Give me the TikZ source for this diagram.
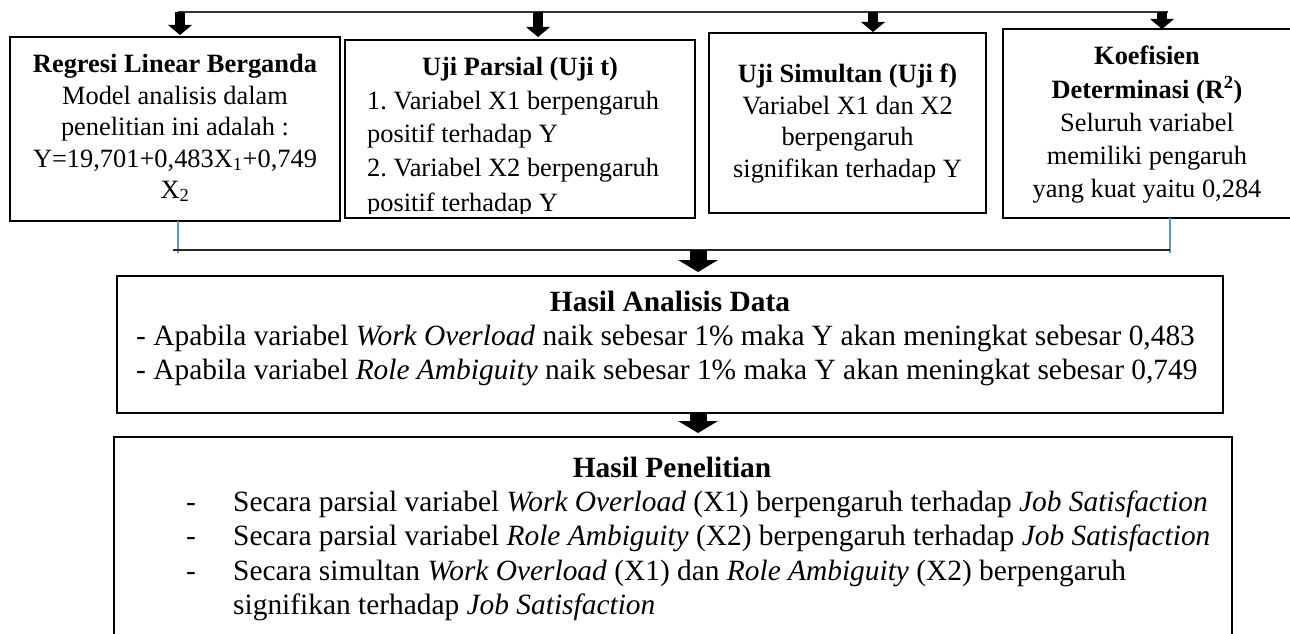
\documentclass[tikz,border=0pt]{standalone}
\usepackage{fontspec}
\setmainfont{Liberation Serif}
\usetikzlibrary{arrows.meta}
\definecolor{lineblue}{HTML}{5B9BD5}
\tikzset{
  box/.style={draw=black, line width=2.2pt, inner sep=0pt, outer sep=0pt, anchor=north west},
  up/.style={font=\fontsize{26.4}{31}\selectfont, inner sep=0pt, anchor=base},
  upl/.style={up, anchor=base west},
  low/.style={font=\fontsize{29.4}{35}\selectfont, inner sep=0pt, anchor=base},
  lowl/.style={low, anchor=base west},
  topline/.style={draw=black!80, line width=1.3pt},
  joinline/.style={draw=black!85, line width=1.6pt},
  blueline/.style={draw=lineblue, line width=1.2pt},
  toparrow/.style={line width=10pt, -{Triangle[width=24pt,length=10pt,line width=0pt]}},
  midarrow/.style={line width=17pt, -{Triangle[width=40pt,length=12pt,line width=0pt]}},
}
\begin{document}
\begin{tikzpicture}[x=1pt,y=-1pt]
\useasboundingbox (0,0) rectangle (1290,634);

% boxes
\node[box, minimum width=330pt, minimum height=184pt] (b1) at (10,37) {};
\node[box, minimum width=350pt, minimum height=178pt] (b2) at (345,40) {};
\node[box, minimum width=277pt, minimum height=180pt] (b3) at (709,33) {};
\node[box, minimum width=290pt, minimum height=189pt] (b4) at (1003,29) {};
\node[box, minimum width=1106pt, minimum height=137pt] (b5) at (117,276) {};
\node[box, minimum width=1118pt, minimum height=212pt] (b6) at (114,437) {};

% box 1 text
\node[up] (t1a) at (175,73) {\textbf{Regresi Linear Berganda}};
\node[up] (t1b) at (175,104) {Model analisis dalam};
\node[up] (t1c) at (175,135) {penelitian ini adalah :};
\node[up] (t1d) at (175,167) {Y=19,701+0,483X\textsubscript{1}+0,749};
\node[up] (t1e) at (175,198) {X\textsubscript{2}};

% box 2 text (clipped by its frame)
\begin{scope}
\clip ([xshift=2pt]b2.north west) rectangle ([yshift=5pt]b2.south east);
\node[up] (t2a) at (520,76) {\textbf{Uji Parsial (Uji t)}};
\node[upl] (t2b) at (367,109) {1.\ Variabel X1 berpengaruh};
\node[upl] (t2c) at (367,142) {positif terhadap Y};
\node[upl] (t2d) at (367,176) {2.\ Variabel X2 berpengaruh};
\node[upl] (t2e) at (367,211) {positif terhadap Y};
\end{scope}

% box 3 text
\node[up] (t3a) at (847.5,82) {\textbf{Uji Simultan (Uji f)}};
\node[up] (t3b) at (847.5,114) {Variabel X1 dan X2};
\node[up] (t3c) at (847.5,145.5) {berpengaruh};
\node[up] (t3d) at (847.5,177) {signifikan terhadap Y};

% box 4 text
\node[up] (t4a) at (1147,65) {\textbf{Koefisien}};
\node[up] (t4b) at (1147,98) {\textbf{Determinasi (R\textsuperscript{2})}};
\node[up] (t4c) at (1147,131) {Seluruh variabel};
\node[up] (t4d) at (1147,164) {memiliki pengaruh};
\node[up] (t4e) at (1147,197) {yang kuat yaitu 0,284};

% box 5 text
\node[low] (t5a) at (670,311) {\textbf{Hasil Analisis Data}};
\node[lowl] (t5b) at (136,345) {- Apabila variabel \textit{Work Overload} naik sebesar 1\% maka Y akan meningkat sebesar 0,483};
\node[lowl] (t5c) at (136,379) {- Apabila variabel \textit{Role Ambiguity} naik sebesar 1\% maka Y akan meningkat sebesar 0,749};

% box 6 text
\node[low] (t6a) at (672,477) {\textbf{Hasil Penelitian}};
\node[lowl] (d6a) at (186,511) {-};
\node[lowl] (d6b) at (186,545.5) {-};
\node[lowl] (d6c) at (186,580) {-};
\node[lowl] (t6b) at (233,511) {Secara parsial variabel \textit{Work Overload} (X1) berpengaruh terhadap \textit{Job Satisfaction}};
\node[lowl] (t6c) at (233,545.5) {Secara parsial variabel \textit{Role Ambiguity} (X2) berpengaruh terhadap \textit{Job Satisfaction}};
\node[lowl] (t6d) at (233,580) {Secara simultan \textit{Work Overload} (X1) dan \textit{Role Ambiguity} (X2) berpengaruh};
\node[lowl] (t6e) at (233,614.5) {signifikan terhadap \textit{Job Satisfaction}};

% top distribution line and arrows
\coordinate (tl) at (178,12);
\coordinate (tr) at (1168,12);
\coordinate (a1) at (180,12);
\coordinate (a2) at (538,12);
\coordinate (a3) at (873,12);
\coordinate (a4) at (1162,12);
\draw[topline] (tl) -- (tr);
\draw[toparrow, shorten >=2pt] (a1) -- (a1 |- b1.north);
\draw[toparrow, shorten >=3pt] (a2) -- (a2 |- b2.north);
\draw[toparrow, shorten >=1pt] (a3) -- (a3 |- b3.north);
\draw[toparrow, shorten >=0pt] (a4) -- (a4 |- b4.north);

% lower collecting line
\coordinate (jl) at (173,250);
\coordinate (j1) at (178,253);
\coordinate (j4) at (1170,253);
\coordinate (jr) at (1170,250);
\coordinate (m1) at (698,250);
\draw[blueline] (b1.south -| j1) -- (j1);
\draw[blueline] (b4.south -| j4) -- (j4);
\draw[joinline] (jl) -- (jr);
\draw[midarrow, shorten >=4pt] (m1) -- (m1 |- b5.north);
\draw[midarrow, shorten >=4pt] (b5.south -| m1) -- (m1 |- b6.north);
\end{tikzpicture}
\end{document}
